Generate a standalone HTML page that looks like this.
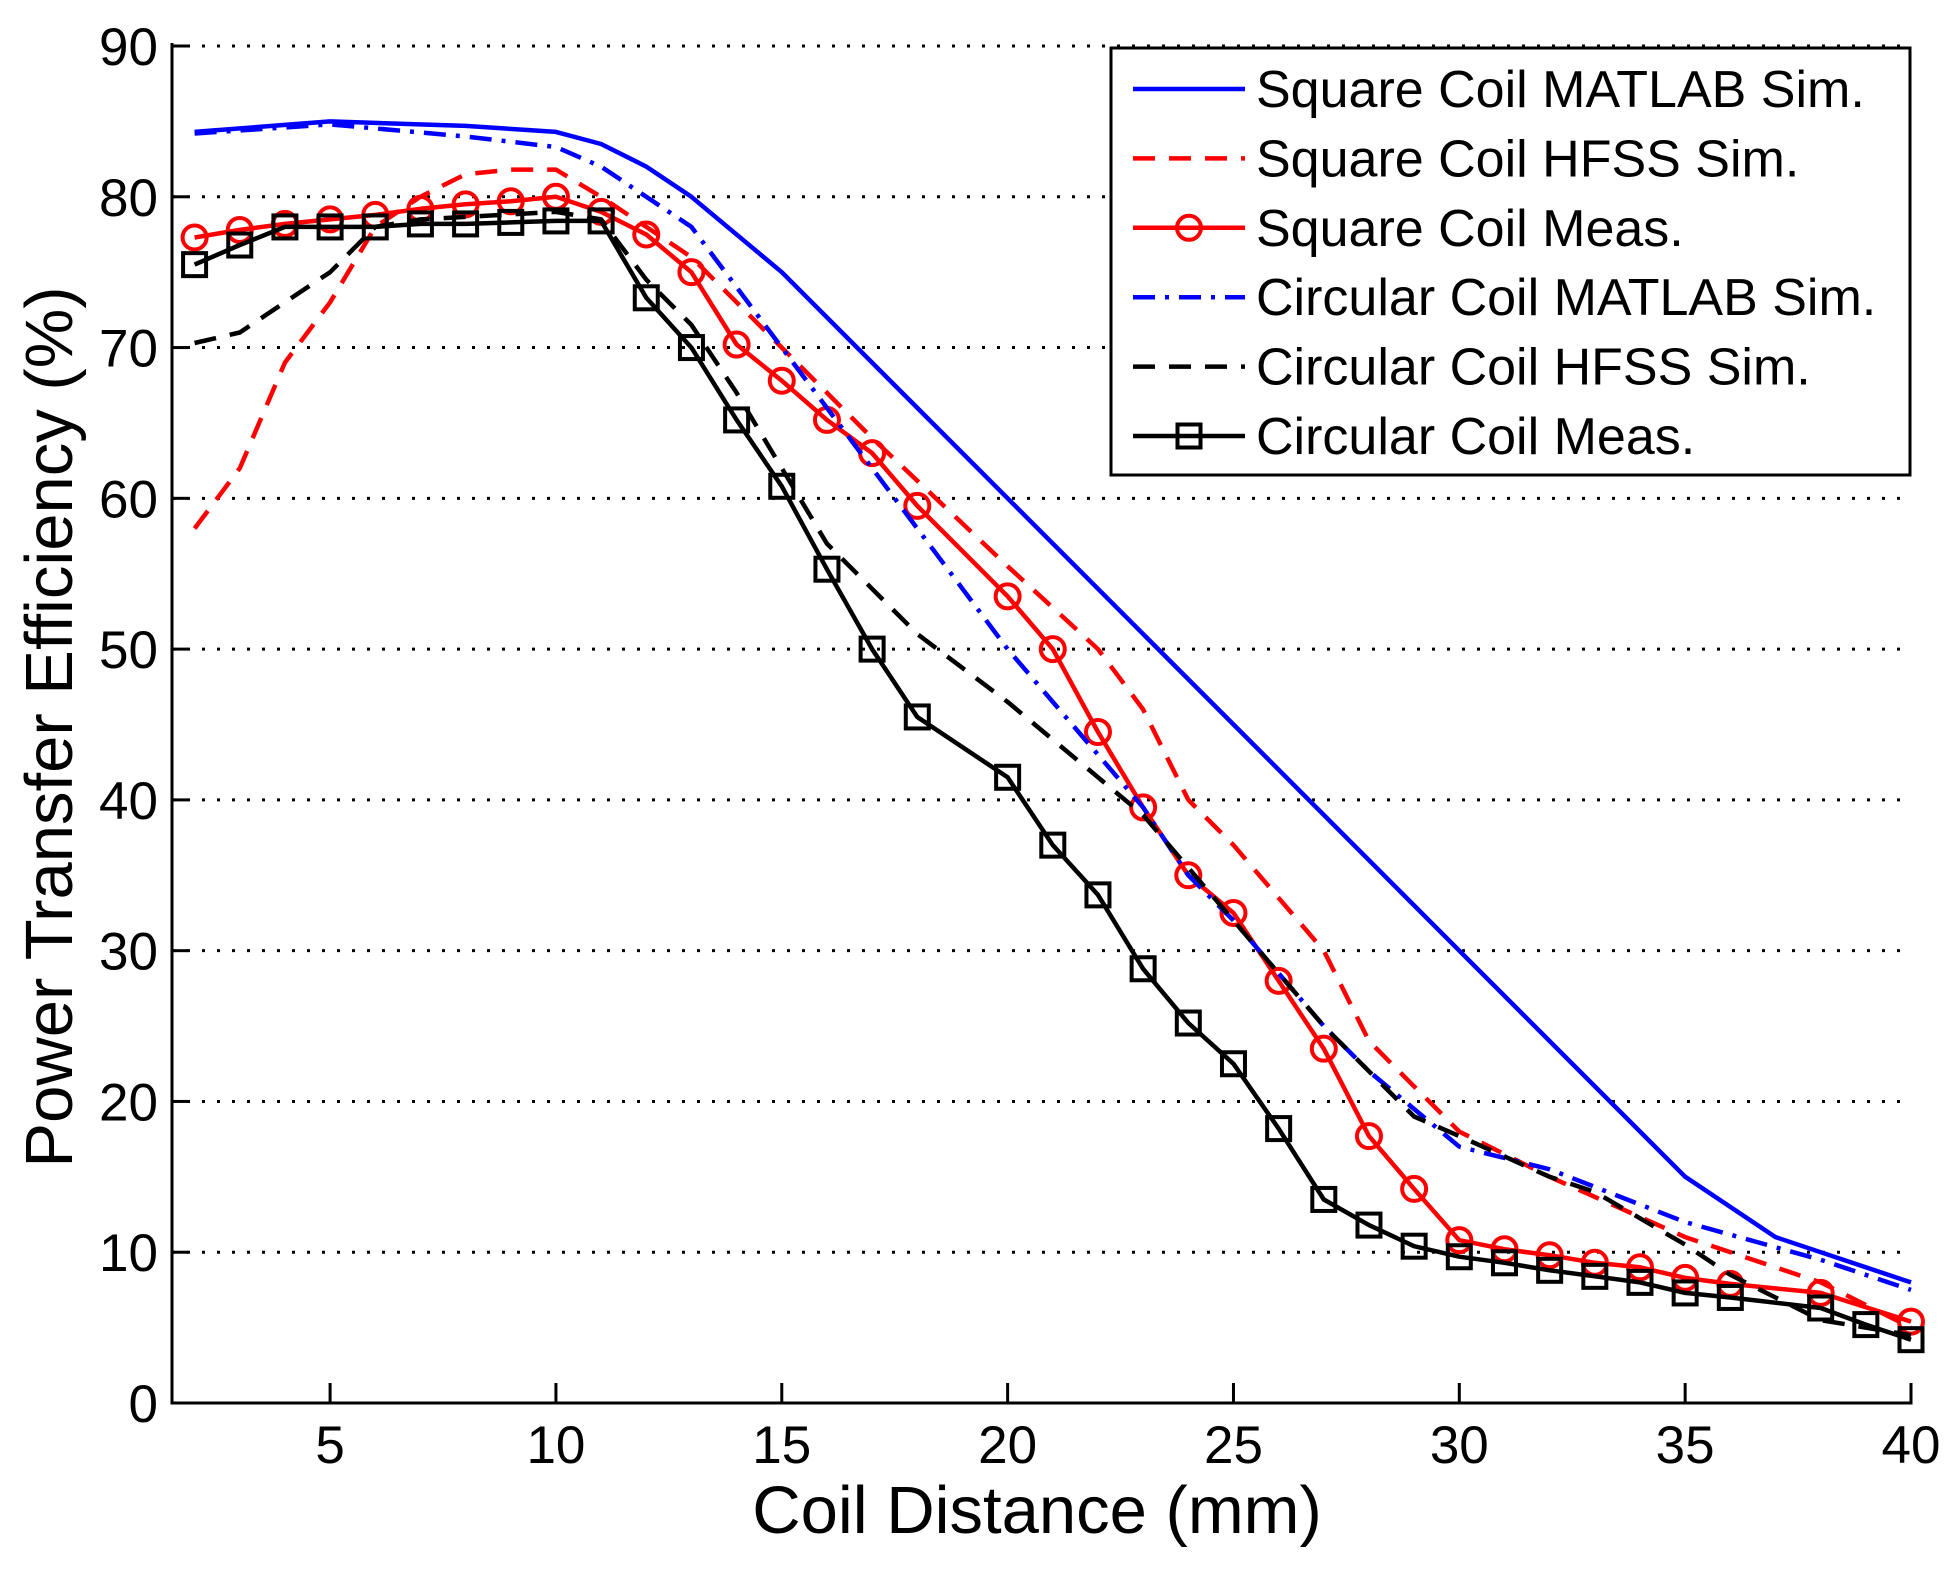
<!DOCTYPE html>
<html><head><meta charset="utf-8"><style>
html,body{margin:0;padding:0;background:#fff;}
svg{display:block;font-family:"Liberation Sans",Arial,sans-serif;}
</style></head><body>
<svg id="chart" width="1957" height="1570" viewBox="0 0 1957 1570" xmlns="http://www.w3.org/2000/svg">
<rect width="1957" height="1570" fill="#fff"/>
<g id="grid"></g>
<g id="axes"></g>
<g id="series"></g>
<text x="1037" y="1533" font-size="67" text-anchor="middle">Coil Distance (mm)</text>
<text transform="translate(72,727) rotate(-90)" font-size="67" text-anchor="middle">Power Transfer Efficiency (%)</text>
<g id="legend"></g>
</svg>
<script>
const NS="http://www.w3.org/2000/svg";
const xTicks=[5,10,15,20,25,30,35,40];
const yTicks=[0,10,20,30,40,50,60,70,80,90];
const sqMatX=[2,5,8,10,11,12,13,15,20,25,30,35,37,40];
const sqMatY=[84.3,85,84.7,84.3,83.5,82,80,75,60,45,30,15,11,8];
const sqHfX=[2,3,4,5,6,7,8,9,10,11,12,13,14,15,17,20,22,23,24,25,27,28,29,30,32,35,38,40];
const sqHfY=[58,62,69,73,78,80,81.5,81.8,81.8,80,78,76,73,70,64,55.5,50,46,40,37,30,24,21,18,15,11,8,5];
const sqMeasX=[2,3,4,5,6,7,8,9,10,11,12,13,14,15,16,17,18,20,21,22,23,24,25,26,27,28,29,30,31,32,33,34,35,36,38,40];
const sqMeasY=[77.3,77.8,78.2,78.5,78.8,79.2,79.5,79.7,80,79,77.5,75,70.2,67.8,65.2,63,59.5,53.5,50,44.5,39.5,35,32.5,28,23.5,17.7,14.2,10.8,10.2,9.8,9.3,9,8.3,7.9,7.3,5.4];
const ciMatX=[2,5,8,10,11,12,13,14,15,16,17,18,19,20,21,22,23,24,25,26,27,28,29,30,32,35,38,40];
const ciMatY=[84.2,84.8,84,83.3,82,80,78,74,70,66,62,58,54,50,46.5,43,39.5,35,32,28.5,25,22,19.5,17,15.5,12,9.5,7.5];
const ciHfX=[2,3,4,5,6,7,10,11,12,13,14,15,16,17,18,20,21,22,23,24,25,26,27,28,29,30,32,33,35,36,37,38,39,40];
const ciHfY=[70.3,71,73,75,78,78.5,79,78.5,74.5,71.5,67,62,57,54,51,46.5,44,41.5,39,35.5,32,28.5,25,22,19,17.7,15,14,10.5,8.5,7,5.5,5,4.5];
const ciMeasX=[2,3,4,5,6,7,8,9,10,11,12,13,14,15,16,17,18,20,21,22,23,24,25,26,27,28,29,30,31,32,33,34,35,36,38,39,40];
const ciMeasY=[75.5,76.8,78,78,78,78.2,78.2,78.3,78.4,78.4,73.3,70,65.2,60.8,55.3,50,45.5,41.5,37,33.7,28.8,25.2,22.5,18.2,13.5,11.8,10.4,9.7,9.3,8.8,8.4,8,7.3,7,6.3,5.2,4.2];
const seriesNames=["Square Coil MATLAB Sim.","Square Coil HFSS Sim.","Square Coil Meas.","Circular Coil MATLAB Sim.","Circular Coil HFSS Sim.","Circular Coil Meas."];

const L=172,R=1911,T=46,B=1403,XMIN=1.5,XMAX=40,YMIN=0,YMAX=90;
const sx=v=>L+(v-XMIN)/(XMAX-XMIN)*(R-L);
const sy=v=>B-(v-YMIN)/(YMAX-YMIN)*(B-T);
function mk(tag,attrs,parent){const e=document.createElementNS(NS,tag);for(const k in attrs)e.setAttribute(k,attrs[k]);parent.appendChild(e);return e;}
const grid=document.getElementById('grid'),axes=document.getElementById('axes'),ser=document.getElementById('series'),leg=document.getElementById('legend');
yTicks.forEach(t=>{
  if(t>0&&t<90){const g=mk('line',{x1:L,x2:R,y1:sy(t),y2:sy(t),stroke:'#000','stroke-width':3,'stroke-dasharray':'3 12'},grid);
  
  }
  const tk=mk('line',{x1:L,x2:L+16,y1:sy(t),y2:sy(t),stroke:'#000','stroke-width':3},axes);
  
  
  const tx=mk('text',{x:L-14,y:sy(t)+19,'font-size':53,'text-anchor':'end'},axes);tx.textContent=t;
  
  
});
const topg=mk('line',{x1:L,x2:R,y1:T,y2:T,stroke:'#000','stroke-width':3,'stroke-dasharray':'3 12'},grid);


xTicks.forEach(t=>{
  const tk=mk('line',{x1:sx(t),x2:sx(t),y1:B,y2:B-20,stroke:'#000','stroke-width':3},axes);
  
  
  const tx=mk('text',{x:sx(t),y:B+60,'font-size':53,'text-anchor':'middle'},axes);tx.textContent=t;
  
  
});
const ya=mk('line',{x1:L,x2:L,y1:T-3,y2:B+1.5,stroke:'#000','stroke-width':3},axes);


const xa=mk('line',{x1:L,x2:R+1.5,y1:B,y2:B,stroke:'#000','stroke-width':3},axes);



const styles=[
 {c:'#0000ff',d:'',m:null},
 {c:'#ff0000',d:'22 14',m:null},
 {c:'#ff0000',d:'',m:'o'},
 {c:'#0000ff',d:'22 10 4 10',m:null},
 {c:'#000',d:'22 14',m:null},
 {c:'#000',d:'',m:'s'}];
const data=[[sqMatX,sqMatY],[sqHfX,sqHfY],[sqMeasX,sqMeasY],[ciMatX,ciMatY],[ciHfX,ciHfY],[ciMeasX,ciMeasY]];
const names=['square-matlab','square-hfss','square-meas','circular-matlab','circular-hfss','circular-meas'];
function marker(type,x,y,c,parent){
  let e;
  if(type==='o'){e=mk('circle',{cx:x,cy:y,r:12,fill:'none',stroke:c,'stroke-width':4},parent);}
  else {e=mk('rect',{x:x-11.5,y:y-11.5,width:23,height:23,fill:'none',stroke:c,'stroke-width':4},parent);}
  return e;
}
data.forEach((d,i)=>{
  const st=styles[i];
  const pts=d[0].map((x,j)=>sx(x).toFixed(1)+','+sy(d[1][j]).toFixed(1)).join(' ');
  const p=mk('polyline',{points:pts,fill:'none',stroke:st.c,'stroke-width':4.5,'stroke-dasharray':st.d,'stroke-linejoin':'round'},ser);
  
  
  if(st.m){d[0].forEach((x,j)=>{const m=marker(st.m,sx(x),sy(d[1][j]),st.c,ser);
    
    });}
});
// legend
const lb=mk('rect',{x:1111,y:48,width:799,height:427,fill:'#fff',stroke:'#000','stroke-width':3},leg);


seriesNames.forEach((n,i)=>{
  const st=styles[i];const y=89+i*69.4;
  const ln=mk('line',{x1:1133,x2:1245,y1:y,y2:y,stroke:st.c,'stroke-width':4.5,'stroke-dasharray':st.d},leg);
  
  
  if(st.m){const m=marker(st.m,1189,y,st.c,leg);
    
    }
  const t=mk('text',{x:1256,y:y+18,'font-size':52},leg);t.textContent=n;
  
  
});
</script>
</body></html>
